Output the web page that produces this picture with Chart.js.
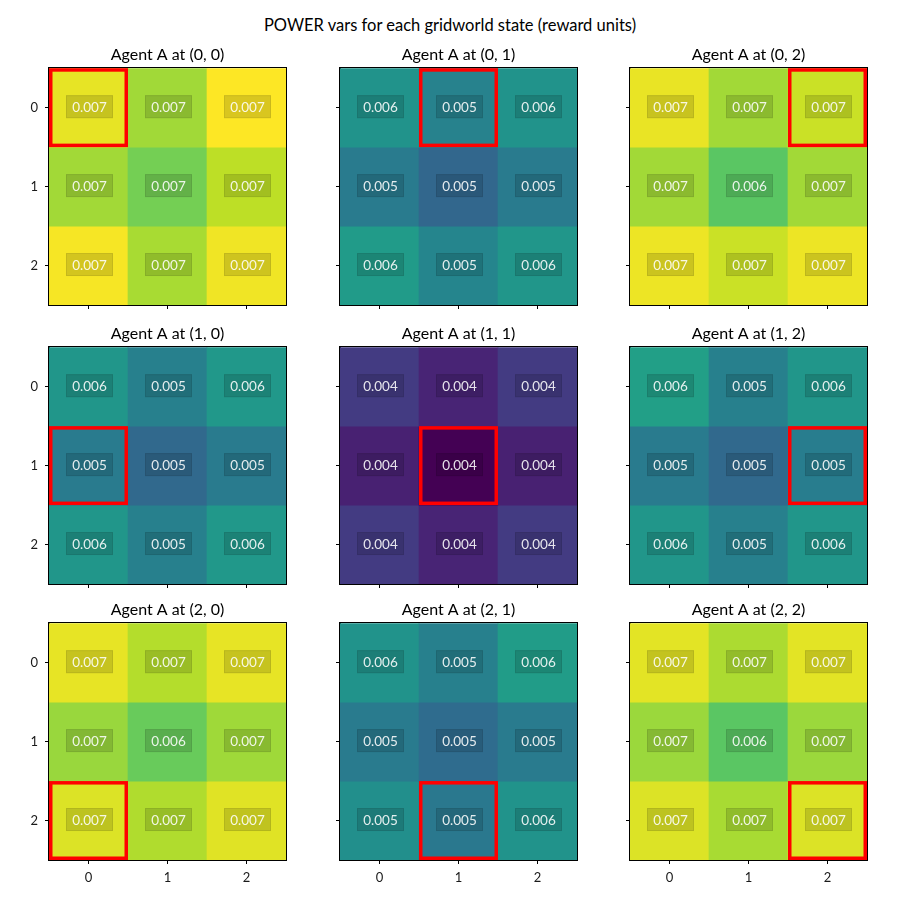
<!DOCTYPE html>
<html><head><meta charset="utf-8">
<script src="https://cdn.jsdelivr.net/npm/chart.js@4.4.1/dist/chart.umd.min.js"></script>
<style>
html,body{margin:0;padding:0;background:#fff;width:900px;height:900px;overflow:hidden;}
#wrap{position:relative;width:900px;height:900px;}
#sup{position:absolute;left:0;top:15px;width:900px;text-align:center;font:16.5px Lato, sans-serif;color:#000;line-height:20px;}
canvas{position:absolute;}
</style></head>
<body><div id="wrap"><div id="sup">POWER vars for each gridworld state (reward units)</div></div>
<script>
// ---- data ----
const gridTicks = ['0', '1', '2'];
const agentCells = [[0,0],[0,1],[0,2],[1,0],[1,1],[1,2],[2,0],[2,1],[2,2]];
const power_0_0 = [[0.00715, 0.00677, 0.00727],[0.00678, 0.00653, 0.00692],[0.00723, 0.00681, 0.00720]];
const power_0_1 = [[0.00555, 0.00530, 0.00555],[0.00520, 0.00492, 0.00520],[0.00566, 0.00534, 0.00559]];
const power_0_2 = [[0.00716, 0.00678, 0.00699],[0.00678, 0.00636, 0.00678],[0.00718, 0.00699, 0.00718]];
const power_1_0 = [[0.00559, 0.00527, 0.00562],[0.00520, 0.00495, 0.00520],[0.00559, 0.00527, 0.00562]];
const power_1_1 = [[0.00436, 0.00411, 0.00436],[0.00408, 0.00376, 0.00408],[0.00436, 0.00411, 0.00436]];
const power_1_2 = [[0.00573, 0.00527, 0.00559],[0.00520, 0.00495, 0.00523],[0.00559, 0.00527, 0.00559]];
const power_2_0 = [[0.00715, 0.00687, 0.00715],[0.00673, 0.00645, 0.00676],[0.00709, 0.00685, 0.00711]];
const power_2_1 = [[0.00555, 0.00527, 0.00569],[0.00520, 0.00499, 0.00520],[0.00548, 0.00516, 0.00555]];
const power_2_2 = [[0.00713, 0.00683, 0.00713],[0.00674, 0.00636, 0.00674],[0.00709, 0.00681, 0.00709]];
const panels = [power_0_0, power_0_1, power_0_2, power_1_0, power_1_1, power_1_2, power_2_0, power_2_1, power_2_2];
const colorMin = 0.00376, colorMax = 0.00727;

// ---- style ----
const VIR = ['#440154','#482475','#414487','#355f8d','#2a788e','#21918c','#22a884','#44bf70','#7ad151','#bddf26','#fde725'];
function hex(h){return [1,3,5].map(i=>parseInt(h.substr(i,2),16));}
function viridis(t){
  t = Math.max(0, Math.min(1, t));
  const p = t*(VIR.length-1), i = Math.min(Math.floor(p), VIR.length-2), f = p - i;
  const a = hex(VIR[i]), b = hex(VIR[i+1]);
  return 'rgb(' + a.map((v,k)=>Math.round(v+(b[k]-v)*f)).join(',') + ')';
}
const LEFTS = [49, 340, 630], TOPS = [68, 347, 623], PW = 237, PH = 237;
const ML = 50, MT = 40, MR = 50, MB = 40;
const FONT = 'Lato';
Chart.defaults.font.family = FONT;

const wrap = document.getElementById('wrap');
panels.forEach((vals, idx) => {
  const pr = Math.floor(idx/3), pc = idx % 3;
  const agent = agentCells[idx];
  const cv = document.createElement('canvas');
  cv.width = ML + PW + MR; cv.height = MT + PH + MB;
  cv.style.left = (LEFTS[pc] - ML) + 'px';
  cv.style.top = (TOPS[pr] - MT) + 'px';
  cv.style.width = cv.width + 'px'; cv.style.height = cv.height + 'px';
  wrap.appendChild(cv);
  const showX = pr === 2, showY = pc === 0;
  const cellPlugin = {
    id: 'cells' + idx,
    afterDatasetsDraw(chart){
      const ctx = chart.ctx, ca = chart.chartArea;
      ctx.save();
      ctx.strokeStyle = '#000'; ctx.lineWidth = 1;
      ctx.strokeRect(Math.round(ca.left)-0.5, Math.round(ca.top)-0.5, Math.round(ca.right-ca.left)+1, Math.round(ca.bottom-ca.top)+1);
      for (let r = 0; r < 3; r++) {
        const meta = chart.getDatasetMeta(r);
        for (let c = 0; c < 3; c++) {
          const el = meta.data[c];
          const cx = el.x, cy = (el.y + el.base)/2;
          const bw = 47, bh = 23;
          ctx.fillStyle = 'rgba(0,0,0,0.14)';
          ctx.fillRect(cx - bw/2 + 1, cy - bh/2 - 1, bw, bh);
          ctx.strokeStyle = 'rgba(0,0,0,0.07)'; ctx.lineWidth = 1;
          ctx.strokeRect(cx - bw/2 + 1.5, cy - bh/2 - 0.5, bw - 1, bh - 1);
          ctx.fillStyle = 'rgba(255,255,255,0.88)';
          ctx.font = '13.5px ' + FONT;
          ctx.textAlign = 'center'; ctx.textBaseline = 'middle';
          ctx.fillText(vals[r][c].toFixed(3), cx + 1, cy);
        }
      }
      const ael = chart.getDatasetMeta(agent[0]).data[agent[1]];
      const x0 = ael.x - ael.width/2, x1 = ael.x + ael.width/2;
      const y0 = Math.min(ael.y, ael.base), y1 = Math.max(ael.y, ael.base);
      const lw = 3.5;
      ctx.strokeStyle = '#ff0000'; ctx.lineWidth = lw;
      ctx.strokeRect(x0 + lw/2, y0 + lw/2, x1 - x0 - lw, y1 - y0 - lw);
      ctx.restore();
    }
  };
  new Chart(cv, {
    type: 'bar',
    data: {
      labels: gridTicks,
      datasets: vals.map((row, r) => ({
        data: row.map(() => [r - 0.5, r + 0.5]),
        backgroundColor: row.map(v => viridis((v - colorMin)/(colorMax - colorMin))),
        grouped: false, categoryPercentage: 1, barPercentage: 1,
        borderWidth: 0, borderSkipped: false
      }))
    },
    options: {
      responsive: false, animation: false, devicePixelRatio: 1,
      events: [],
      layout: { padding: { top: 9, right: MR, left: 0, bottom: 0 } },
      plugins: {
        legend: { display: false }, tooltip: { enabled: false },
        title: { display: true, text: `Agent A at (${agent[0]}, ${agent[1]})`, fullSize: false,
          font: { family: FONT, size: 16, weight: 'normal' }, color: '#000', padding: { top: 8, bottom: 4 } }
      },
      scales: {
        x: {
          type: 'category', offset: true,
          grid: { display: true, drawOnChartArea: false, drawTicks: true, tickLength: 4, offset: false, color: '#000' },
          border: { display: true, color: '#000', width: 1 },
          ticks: { color: showX ? '#1a1a1a' : 'rgba(0,0,0,0)', font: { family: FONT, size: 13 }, padding: 6, maxRotation: 0 },
          afterFit(s){ s.height = MB; }
        },
        y: {
          type: 'linear', reverse: true, min: -0.5, max: 2.5,
          afterBuildTicks(s){ s.ticks = gridTicks.map(t => ({ value: +t })); },
          grid: { display: true, drawOnChartArea: false, drawTicks: true, tickLength: 4, color: '#000' },
          border: { display: true, color: '#000', width: 1 },
          ticks: { color: showY ? '#1a1a1a' : 'rgba(0,0,0,0)', font: { family: FONT, size: 13 }, padding: 7, callback: v => String(v) },
          afterFit(s){ s.width = ML; }
        }
      }
    },
    plugins: [cellPlugin]
  });
});
</script>
</body></html>
